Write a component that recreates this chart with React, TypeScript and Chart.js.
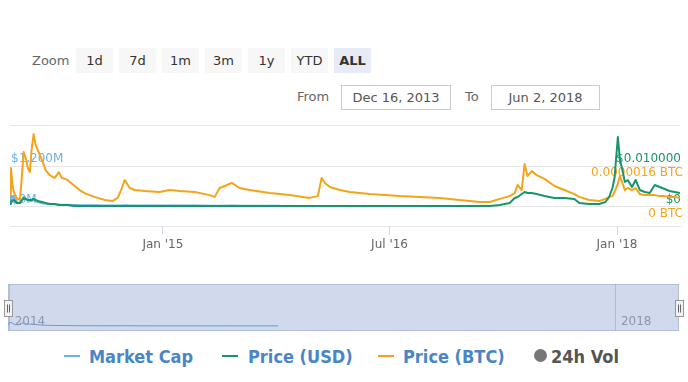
import React, { useEffect, useRef } from 'react';
import { Chart, registerables } from 'chart.js';

Chart.register(...registerables);

// ---- data ----
const dates = [
  '2013-12-28', '2013-12-30', '2014-01-04', '2014-01-09', '2014-01-13', '2014-01-21', '2014-01-25', '2014-01-30',
  '2014-02-04', '2014-02-09', '2014-02-14', '2014-02-18', '2014-02-23', '2014-02-28', '2014-03-05', '2014-03-15',
  '2014-03-24', '2014-04-03', '2014-04-15', '2014-04-25', '2014-05-02', '2014-05-16', '2014-06-02', '2014-06-14',
  '2014-06-26', '2014-07-20', '2014-08-14', '2014-09-02', '2014-09-14', '2014-09-24', '2014-10-01', '2014-10-13',
  '2014-10-25', '2014-11-18', '2014-12-24', '2015-01-17', '2015-02-11', '2015-03-19', '2015-04-24', '2015-05-06',
  '2015-05-18', '2015-05-30', '2015-06-16', '2015-07-05', '2015-07-29', '2015-09-16', '2015-10-10', '2015-11-03',
  '2015-12-21', '2016-01-10', '2016-01-19', '2016-01-27', '2016-02-08', '2016-03-03', '2016-03-27', '2016-05-14',
  '2016-07-26', '2016-09-12', '2016-10-30', '2016-12-17', '2017-02-04', '2017-02-28', '2017-03-24', '2017-04-17',
  '2017-04-29', '2017-05-06', '2017-05-16', '2017-05-23', '2017-05-30', '2017-06-09', '2017-06-21', '2017-07-10',
  '2017-08-03', '2017-08-27', '2017-09-20', '2017-10-02', '2017-10-26', '2017-11-19', '2017-12-04', '2017-12-13',
  '2017-12-21', '2017-12-26', '2018-01-03', '2018-01-08', '2018-01-13', '2018-01-20', '2018-01-27', '2018-02-06',
  '2018-02-15', '2018-02-25', '2018-03-09', '2018-03-21', '2018-04-02', '2018-04-14', '2018-04-26', '2018-05-08',
  '2018-05-20', '2018-06-02',
];

// Price (BTC), in satoshi (1e-8 BTC)
const priceBtcSat = [
  26, 152, 73, 45, 34, 26, 105, 215,
  192, 152, 136, 223, 286, 243, 223, 184,
  144, 124, 113, 136, 113, 105, 81, 65,
  53, 38, 26, 22, 34, 73, 105, 73,
  65, 61, 57, 65, 61, 57, 45, 38,
  73, 81, 93, 73, 65, 53, 49, 45,
  34, 41, 113, 93, 77, 65, 57, 49,
  41, 38, 34, 26, 18, 18, 30, 41,
  53, 85, 65, 168, 120, 140, 124, 109,
  81, 65, 49, 38, 26, 22, 30, 38,
  41, 57, 89, 120, 97, 65, 73, 65,
  73, 49, 45, 45, 45, 41, 41, 38,
  38, 34,
];

// Price (USD)
const priceUsd = [
  0.00062, 0.00111, 0.00161, 0.00136, 0.00086, 0.00086, 0.00136, 0.0021,
  0.00185, 0.00161, 0.00161, 0.00161, 0.00185, 0.00161, 0.00136, 0.00111,
  0.00086, 0.00062, 0.00062, 0.00037, 0.00037, 0.00037, 0.00012, 0.00012,
  0.00012, 0.00012, 0.0001, 0.0001, 0.0001, 0.00013, 0.00015, 0.00013,
  0.00012, 0.00012, 0.00011, 0.00011, 0.00011, 0.0001, 0.0001, 0.0001,
  0.00012, 0.00013, 0.00013, 0.00012, 0.00011, 0.0001, 0.0001, 0.0001,
  0.0001, 0.0001, 0.00013, 0.00012, 0.00011, 0.00011, 0.0001, 0.0001,
  0.0001, 0.0001, 0.0001, 0.0001, 0.00012, 0.00014, 0.00037, 0.00086,
  0.0021, 0.00235, 0.00309, 0.00358, 0.00333, 0.00333, 0.00309, 0.00259,
  0.0021, 0.0021, 0.00185, 0.00086, 0.00062, 0.00062, 0.00111, 0.00235,
  0.00457, 0.00704, 0.01717, 0.01149, 0.00951, 0.00605, 0.00655, 0.00482,
  0.00655, 0.00408, 0.00358, 0.00333, 0.00531, 0.00482, 0.00432, 0.00383,
  0.00358, 0.00333,
];

// Market Cap, in millions of USD (series ends in Oct 2015)
const marketCapM: (number | null)[] = [
  160, 280, 310, 220, 130, 105, 190, 280,
  230, 190, 165, 165, 190, 165, 135, 105,
  80, 75, 65, 60, 55, 50, 45, 40,
  38, 35, 32, 30, 30, 32, 35, 33,
  31, 30, 28, 27, 27, 26, 24, 23,
  25, 25, 26, 25, 24, 23, 23, null,
  null, null, null, null, null, null, null, null,
  null, null, null, null, null, null, null, null,
  null, null, null, null, null, null, null, null,
  null, null, null, null, null, null, null, null,
  null, null, null, null, null, null, null, null,
  null, null, null, null, null, null, null, null,
  null, null,
];

const xTickDates = ['2015-01-01', '2016-07-01', '2018-01-01'];
const xTickLabels = ["Jan '15", "Jul '16", "Jan '18"];
const navTickDates = ['2014-01-01', '2018-01-01'];
const navTickLabels = ['2014', '2018'];
const zoomButtons = ['1d', '7d', '1m', '3m', '1y', 'YTD', 'ALL'];
const selectedZoom = 'ALL';
const fromDate = 'Dec 16, 2013';
const toDate = 'Jun 2, 2018';
const btcTicksSat = [0, 160, 320];
const usdTicks = [0, 0.01, 0.02];
const mcTicksM = [0, 1200, 2400];

const legendItems = [
  { name: 'Market Cap', color: '#6cb2e4', kind: 'line' },
  { name: 'Price (USD)', color: '#16966a', kind: 'line' },
  { name: 'Price (BTC)', color: '#f4a419', kind: 'line' },
  { name: '24h Vol', color: '#777777', kind: 'dot' },
];

const FONT = "'DejaVu Sans', 'Liberation Sans', sans-serif";
const COND = "'DejaVu Sans Condensed', 'DejaVu Sans', sans-serif";

const ts = (d: string) => Date.parse(d + 'T00:00:00Z');

export default function App() {
  const mainRef = useRef<HTMLCanvasElement>(null);
  const navRef = useRef<HTMLCanvasElement>(null);

  useEffect(() => {
    const xs = dates.map(ts);
    const xMin = xs[0];
    const xMax = xs[xs.length - 1];
    const pts = (vals: (number | null)[]) => vals.map((v, i) => ({ x: xs[i], y: v }));

    const main = new Chart(mainRef.current as HTMLCanvasElement, {
      type: 'line',
      data: {
        datasets: [
          {
            label: 'Price (USD)', data: pts(priceUsd), yAxisID: 'yUsd', borderColor: legendItems[1].color,
            borderWidth: 2, pointRadius: 0, tension: 0, order: 0, borderJoinStyle: 'round',
          },
          {
            label: 'Market Cap', data: pts(marketCapM), yAxisID: 'yMc', borderColor: legendItems[0].color,
            borderWidth: 2, pointRadius: 0, tension: 0, spanGaps: false, order: 1, borderJoinStyle: 'round',
          },
          {
            label: 'Price (BTC)', data: pts(priceBtcSat), yAxisID: 'yBtc', borderColor: legendItems[2].color,
            borderWidth: 2, pointRadius: 0, tension: 0, order: 2, borderJoinStyle: 'round',
          },
        ] as any,
      },
      options: {
        animation: false,
        responsive: false,
        events: [],
        layout: { padding: { left: 8, right: 4, top: 15.5, bottom: 3.25 } },
        plugins: { legend: { display: false }, tooltip: { enabled: false } },
        scales: {
          x: {
            type: 'linear', min: xMin, max: xMax, position: 'bottom',
            afterBuildTicks: (s: any) => { s.ticks = xTickDates.map((d) => ({ value: ts(d) })); },
            afterFit: (s: any) => { s.height = 30; },
            ticks: {
              autoSkip: false, maxRotation: 0, padding: 3, color: '#666666',
              font: { family: FONT, size: 12 },
              callback: (v: any) => xTickLabels[xTickDates.map(ts).indexOf(Number(v))] ?? '',
            },
            grid: { drawOnChartArea: false, drawTicks: true, tickLength: 8, color: '#ccd6eb' },
            border: { display: true, color: '#e6e6e6' },
          },
          yMc: {
            type: 'linear', position: 'left', min: -600, max: 2400,
            afterBuildTicks: (s: any) => { s.ticks = mcTicksM.map((v) => ({ value: v })); },
            ticks: {
              mirror: true, padding: 1, labelOffset: -7, color: legendItems[0].color,
              font: { family: FONT, size: 12 },
              callback: (v: any) => (Number(v) === 2400 ? '' : '$' + Number(v).toLocaleString('en-US') + 'M'),
            },
            grid: { display: false, drawTicks: false },
            border: { display: false },
          },
          yUsd: {
            type: 'linear', position: 'right', min: -0.005, max: 0.02,
            afterBuildTicks: (s: any) => { s.ticks = usdTicks.map((v) => ({ value: v })); },
            ticks: {
              mirror: true, padding: 1, labelOffset: -7, color: legendItems[1].color,
              font: { family: FONT, size: 12 },
              callback: (v: any) => {
                const n = Number(v);
                if (n === 0.02) return '';
                return n === 0 ? '$0' : '$' + n.toFixed(6);
              },
            },
            grid: { display: false, drawTicks: false },
            border: { display: false },
          },
          yBtc: {
            type: 'linear', position: 'right', min: -80, max: 320,
            afterBuildTicks: (s: any) => { s.ticks = btcTicksSat.map((v) => ({ value: v })); },
            ticks: {
              mirror: true, padding: 1, labelOffset: 7, color: legendItems[2].color,
              font: { family: FONT, size: 12 },
              callback: (v: any) => {
                const n = Number(v);
                if (n === 320) return '';
                return n === 0 ? '0 BTC' : (n * 1e-8).toFixed(7) + ' BTC';
              },
            },
            grid: { display: true, drawTicks: false, color: '#e6e6e6' },
            border: { display: false },
          },
        } as any,
      },
    });

    const navDecor = {
      id: 'navDecor',
      beforeDraw(chart: any) {
        const { ctx, chartArea: a } = chart;
        ctx.save();
        ctx.fillStyle = 'rgba(102,133,194,0.3)';
        ctx.fillRect(a.left, a.top, a.right - a.left, a.bottom - a.top);
        ctx.strokeStyle = 'rgba(160,172,200,0.6)';
        ctx.lineWidth = 1;
        ctx.strokeRect(a.left + 0.5, a.top + 0.5, a.right - a.left - 1, a.bottom - a.top - 1);
        ctx.restore();
      },
      afterDraw(chart: any) {
        const { ctx, chartArea: a, scales } = chart;
        ctx.save();
        ctx.font = `12px ${FONT}`;
        ctx.fillStyle = '#8d96aa';
        ctx.textBaseline = 'middle';
        ctx.textAlign = 'left';
        navTickDates.forEach((d, i) => {
          const px = scales.x.getPixelForValue(ts(d));
          ctx.fillText(navTickLabels[i], Math.max(px, a.left) + 5, a.bottom - 9);
        });
        const handle = (cx: number) => {
          const w = 8, h = 16;
          const x0 = Math.round(cx - w / 2) + 0.5;
          const y0 = Math.round((a.top + a.bottom) / 2 - h / 2) + 0.5;
          ctx.fillStyle = '#f2f2f2';
          ctx.strokeStyle = '#999999';
          ctx.lineWidth = 1;
          ctx.fillRect(x0, y0, w, h);
          ctx.strokeRect(x0, y0, w, h);
          ctx.beginPath();
          ctx.moveTo(x0 + 3, y0 + 4); ctx.lineTo(x0 + 3, y0 + h - 4);
          ctx.moveTo(x0 + 5, y0 + 4); ctx.lineTo(x0 + 5, y0 + h - 4);
          ctx.strokeStyle = '#666666';
          ctx.stroke();
        };
        handle(a.left);
        handle(a.right);
        ctx.restore();
      },
    };

    const nav = new Chart(navRef.current as HTMLCanvasElement, {
      type: 'line',
      data: {
        datasets: [
          {
            label: 'Market Cap', data: pts(marketCapM), borderColor: '#5b9fd6', borderWidth: 1,
            pointRadius: 0, tension: 0, spanGaps: false,
          },
        ] as any,
      },
      options: {
        animation: false,
        responsive: false,
        events: [],
        layout: { padding: { left: 8, right: 9, top: 4, bottom: 5 } },
        plugins: { legend: { display: false }, tooltip: { enabled: false } },
        scales: {
          x: {
            type: 'linear', min: xMin, max: xMax,
            afterBuildTicks: (s: any) => { s.ticks = navTickDates.map((d) => ({ value: ts(d) })); },
            ticks: { display: false },
            grid: { drawTicks: false, color: 'rgba(120,135,170,0.35)' },
            border: { display: false },
          },
          y: { display: false, min: -400, max: 3500 },
        } as any,
      },
      plugins: [navDecor],
    });

    return () => {
      main.destroy();
      nav.destroy();
    };
  }, []);

  const legendPos = [
    { sym: 64, text: 89 },
    { sym: 222, text: 248 },
    { sym: 378, text: 403 },
    { sym: 534, text: 551 },
  ];

  return (
    <div style={{ position: 'absolute', left: 0, top: 0, width: 688, height: 382, background: '#ffffff', overflow: 'hidden', fontFamily: FONT }}>
      <span style={{ position: 'absolute', left: 32, top: 54, fontSize: 13, lineHeight: '13px', color: '#666666' }}>Zoom</span>
      {zoomButtons.map((b, i) => (
        <div
          key={b}
          style={{
            position: 'absolute', left: 76 + i * 43, top: 48, width: 37, height: 25,
            background: b === selectedZoom ? '#e6ebf5' : '#f7f7f7',
            display: 'flex', alignItems: 'center', justifyContent: 'center',
            fontSize: 13, color: '#333333', fontWeight: b === selectedZoom ? 'bold' : 'normal',
          }}
        >
          {b}
        </div>
      ))}
      <span style={{ position: 'absolute', left: 297, top: 90, fontSize: 13, lineHeight: '13px', color: '#666666' }}>From</span>
      <div style={{ position: 'absolute', left: 341, top: 85, width: 108, height: 23, border: '1px solid #cccccc', display: 'flex', alignItems: 'center', justifyContent: 'center', fontSize: 13, color: '#555555' }}>{fromDate}</div>
      <span style={{ position: 'absolute', left: 465, top: 90, fontSize: 13, lineHeight: '13px', color: '#666666' }}>To</span>
      <div style={{ position: 'absolute', left: 491, top: 85, width: 107, height: 23, border: '1px solid #cccccc', display: 'flex', alignItems: 'center', justifyContent: 'center', fontSize: 13, color: '#555555' }}>{toDate}</div>

      <canvas ref={mainRef} width={688} height={150} style={{ position: 'absolute', left: 0, top: 110, width: 688, height: 150 }} />
      <canvas ref={navRef} width={688} height={56} style={{ position: 'absolute', left: 0, top: 280, width: 688, height: 56 }} />

      {legendItems.map((it, i) => (
        <React.Fragment key={it.name}>
          {it.kind === 'line' ? (
            <div style={{ position: 'absolute', left: legendPos[i].sym, top: 355, width: 16, height: 2, background: it.color }} />
          ) : (
            <div style={{ position: 'absolute', left: legendPos[i].sym, top: 349, width: 13, height: 13, borderRadius: '50%', background: it.color }} />
          )}
          <span
            style={{
              position: 'absolute', left: legendPos[i].text, top: 348, fontFamily: COND, fontWeight: 'bold',
              fontSize: 18, lineHeight: '18px', whiteSpace: 'nowrap',
              color: it.kind === 'dot' ? '#555555' : '#4a86c5',
            }}
          >
            {it.name}
          </span>
        </React.Fragment>
      ))}
    </div>
  );
}
